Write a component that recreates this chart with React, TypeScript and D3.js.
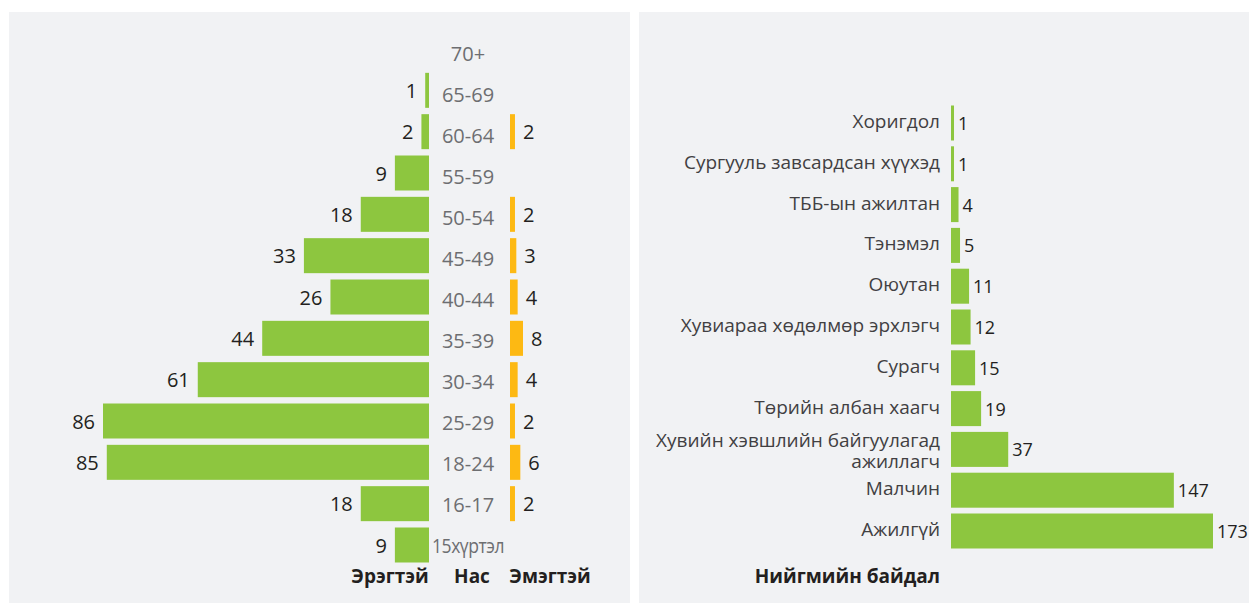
import React from "react";
import * as d3 from "d3";

// Age pyramid (left panel)
const ageGroups = ["70+", "65-69", "60-64", "55-59", "50-54", "45-49", "40-44", "35-39", "30-34", "25-29", "18-24", "16-17", "15хүртэл"];
const maleCounts: (number | null)[] = [null, 1, 2, 9, 18, 33, 26, 44, 61, 86, 85, 18, 9];
const femaleCounts: (number | null)[] = [null, null, 2, null, 2, 3, 4, 8, 4, 2, 6, 2, null];

// Social status (right panel)
const statusLabels: string[][] = [
  ["Хоригдол"],
  ["Сургууль завсардсан хүүхэд"],
  ["ТББ-ын ажилтан"],
  ["Тэнэмэл"],
  ["Оюутан"],
  ["Хувиараа хөдөлмөр эрхлэгч"],
  ["Сурагч"],
  ["Төрийн албан хаагч"],
  ["Хувийн хэвшлийн байгуулагад", "ажиллагч"],
  ["Малчин"],
  ["Ажилгүй"],
];
const statusCounts = [1, 1, 4, 5, 11, 12, 15, 19, 37, 147, 173];

const GREEN = "#8dc63f";
const ORANGE = "#fdb913";
const PANEL = "#f1f2f4";
const DARK = "#231f20";
const FONT = "'Open Sans', 'Noto Sans', sans-serif";

export default function App() {
  const W = 1249;
  const H = 603;
  const barH = 35;

  // bar rows and the age labels between them
  const yAge = d3.scalePoint<string>().domain(ageGroups).range([49, 545]);
  const yAgeLabel = d3.scalePoint<string>().domain(ageGroups).range([53, 545]);
  const xMale = d3.scaleLinear().domain([0, 86]).range([429, 103]);
  const femaleBase = 510;
  const xFemale = d3.scaleLinear().domain([0, 8]).range([femaleBase + 2.3, femaleBase + 13]);

  const keys = statusLabels.map((l) => l.join(" "));
  const yStatus = d3.scalePoint<string>().domain(keys).range([123, 531]);
  const statusBase = 951;
  const xStatus = d3.scaleLinear().domain([0, 173]).range([statusBase + 1.5, statusBase + 262]);

  return (
    <svg
      width={W}
      height={H}
      style={{ position: "absolute", left: 0, top: 0, background: "#ffffff" }}
      fontFamily={FONT}
    >
      <rect x={9} y={12} width={621} height={H - 12} fill={PANEL} />
      <rect x={639} y={12} width={W - 639} height={H - 12} fill={PANEL} />

      {/* Left panel: age pyramid */}
      {ageGroups.map((g, i) => {
        const cy = yAge(g)!;
        const m = maleCounts[i];
        const f = femaleCounts[i];
        const long = g.length > 6;
        return (
          <g key={g}>
            <text
              x={468}
              y={yAgeLabel(g)!}
              textAnchor="middle"
              dominantBaseline="central"
              fontSize={20}
              fill="#6d6e71"
              letterSpacing={long ? -0.5 : 0}
              {...(long ? { textLength: 72, lengthAdjust: "spacingAndGlyphs" } : {})}
            >
              {g}
            </text>
            {m != null && (
              <>
                <rect x={xMale(m)} y={cy - barH / 2} width={xMale(0) - xMale(m)} height={barH} fill={GREEN} />
                <text x={xMale(m) - 8} y={cy} textAnchor="end" dominantBaseline="central" fontSize={20} fill={DARK}>
                  {m}
                </text>
              </>
            )}
            {f != null && (
              <>
                <rect x={femaleBase} y={cy - barH / 2} width={xFemale(f) - femaleBase} height={barH} fill={ORANGE} />
                <text x={xFemale(f) + 8} y={cy} textAnchor="start" dominantBaseline="central" fontSize={20} fill={DARK}>
                  {f}
                </text>
              </>
            )}
          </g>
        );
      })}
      <text x={390} y={576} textAnchor="middle" dominantBaseline="central" fontSize={19} fontWeight={700} fill={DARK}>
        Эрэгтэй
      </text>
      <text x={472} y={576} textAnchor="middle" dominantBaseline="central" fontSize={19} fontWeight={700} fill={DARK}>
        Нас
      </text>
      <text x={550} y={576} textAnchor="middle" dominantBaseline="central" fontSize={19} fontWeight={700} fill={DARK}>
        Эмэгтэй
      </text>

      {/* Right panel: social status */}
      {keys.map((k, i) => {
        const cy = yStatus(k)!;
        const v = statusCounts[i];
        const lines = statusLabels[i];
        const lh = 21;
        return (
          <g key={k}>
            {lines.map((ln, j) => (
              <text
                key={j}
                x={940}
                y={cy - 2 + (j - (lines.length - 1) / 2) * lh + (lines.length > 1 ? 3 : 0)}
                textAnchor="end"
                dominantBaseline="central"
                fontSize={19}
                fill="#414042"
              >
                {ln}
              </text>
            ))}
            <rect x={statusBase} y={cy - barH / 2} width={xStatus(v) - statusBase} height={barH} fill={GREEN} />
            <text x={xStatus(v) + 4} y={cy} textAnchor="start" dominantBaseline="central" fontSize={18} fill={DARK}>
              {v}
            </text>
          </g>
        );
      })}
      <text x={940} y={576} textAnchor="end" dominantBaseline="central" fontSize={19} fontWeight={700} fill={DARK}>
        Нийгмийн байдал
      </text>
    </svg>
  );
}
